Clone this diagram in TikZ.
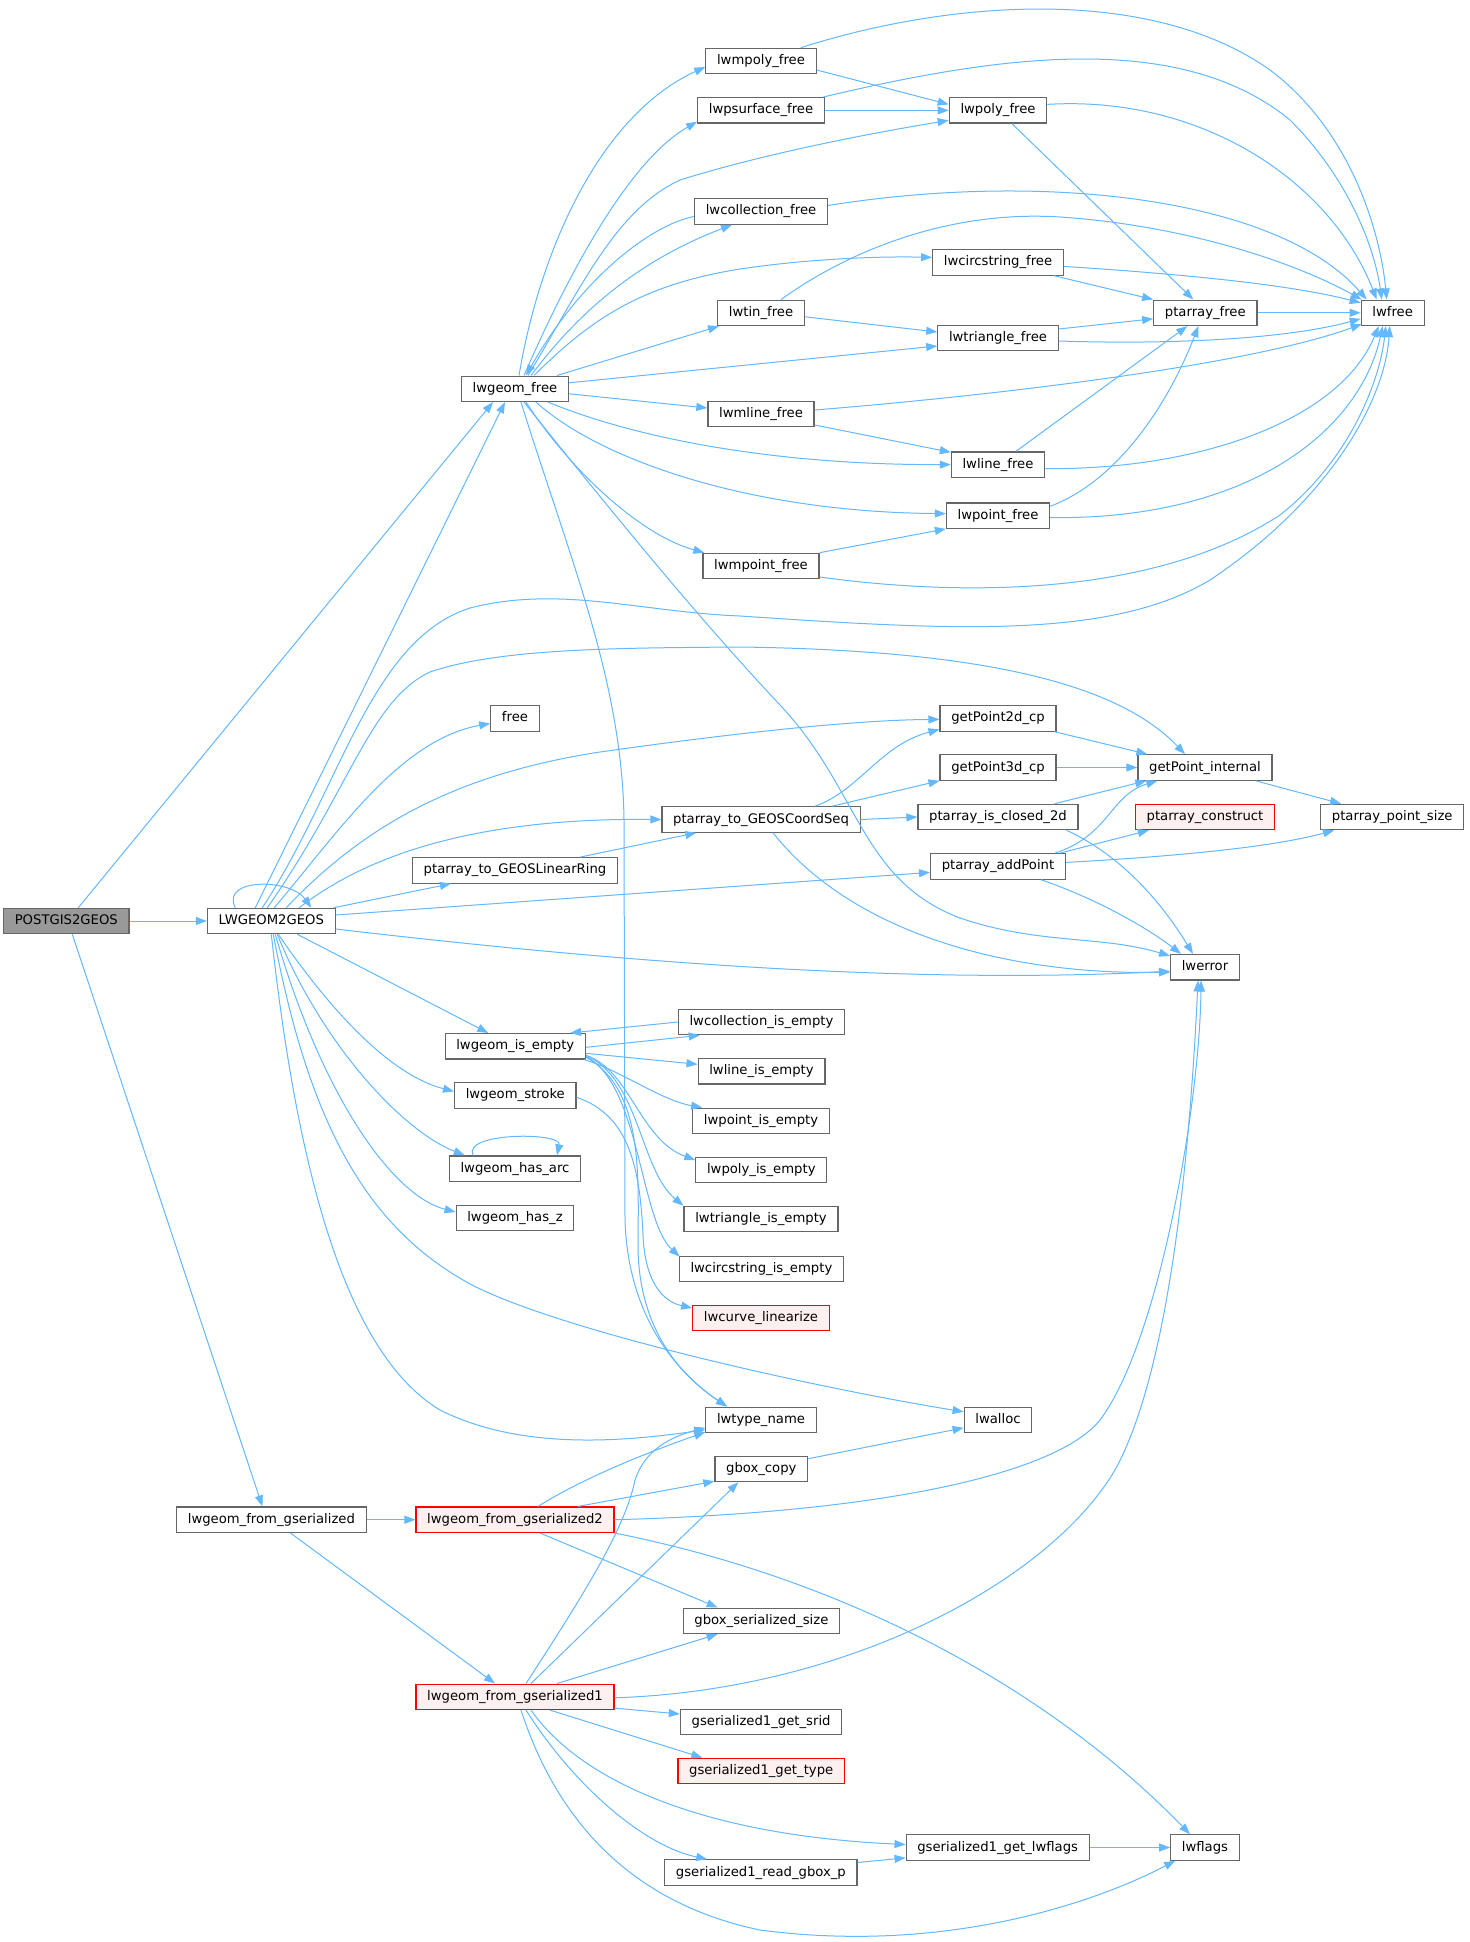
\documentclass[tikz,border=0pt]{standalone}
\usepackage{fontspec}
\setmainfont{DejaVu Sans}
\usetikzlibrary{arrows.meta,calc}
\definecolor{edgec}{HTML}{63B8FF}
\definecolor{bord}{HTML}{666666}
\definecolor{rootfill}{HTML}{999999}
\definecolor{redfill}{HTML}{FFF0F0}
\newcommand{\gfont}{\fontsize{6.6}{7.5}\selectfont}
\begin{document}
\begin{tikzpicture}[x=0.5pt,y=-0.5pt,
  box/.style={draw=bord, fill=white, line width=0.6pt, font=\gfont, inner xsep=5.6pt, inner ysep=0pt, minimum height=12.7pt, text height=4.9pt, text depth=1.4pt},
  rootbox/.style={box, fill=rootfill},
  redbox/.style={box, draw=red, fill=redfill},
  ed/.style={draw=edgec, line width=0.5pt, -{Triangle[length=5.5pt,width=4pt]}}]
\useasboundingbox (0,0) rectangle (1469,1942);
\fill[white] (0,0) rectangle (1469,1942);
% nodes
\node[rootbox] (root) at (66.3,921) {POSTGIS2GEOS};
\node[box] (lgg) at (271.3,921) {LWGEOM2GEOS};
\node[box] (gfree) at (515,388.8) {lwgeom\_free};
\node[box] (mpoly) at (761,61) {lwmpoly\_free};
\node[box] (psurf) at (761,110.4) {lwpsurface\_free};
\node[box] (poly) at (998,110.4) {lwpoly\_free};
\node[box] (coll) at (761,211.5) {lwcollection\_free};
\node[box] (circ) at (998,262.4) {lwcircstring\_free};
\node[box] (tin) at (761,312.8) {lwtin\_free};
\node[box] (tri) at (998,338) {lwtriangle\_free};
\node[box] (pafree) at (1205.3,312.8) {ptarray\_free};
\node[box] (lwfree) at (1392.7,312.8) {lwfree};
\node[box] (mline) at (761,414) {lwmline\_free};
\node[box] (line) at (998,464.6) {lwline\_free};
\node[box] (point) at (998,515.6) {lwpoint\_free};
\node[box] (mpoint) at (761,566) {lwmpoint\_free};
\node[box] (free) at (515,718.4) {free};
\node[box] (gp2d) at (998,718.4) {getPoint2d\_cp};
\node[box] (gp3d) at (998,767.5) {getPoint3d\_cp};
\node[box] (gpi) at (1205,767.5) {getPoint\_internal};
\node[box] (pcs) at (761,819.5) {ptarray\_to\_GEOSCoordSeq};
\node[box] (pcl) at (998,817) {ptarray\_is\_closed\_2d};
\node[redbox] (pcon) at (1205,817) {ptarray\_construct};
\node[box] (pps) at (1392.2,817) {ptarray\_point\_size};
\node[box] (plr) at (515,870.4) {ptarray\_to\_GEOSLinearRing};
\node[box] (pap) at (998,866.4) {ptarray\_addPoint};
\node[box] (lwerror) at (1205,967.2) {lwerror};
\node[box] (cie) at (761.5,1022) {lwcollection\_is\_empty};
\node[box] (gie) at (515.3,1046.3) {lwgeom\_is\_empty};
\node[box] (lie) at (761.5,1071.3) {lwline\_is\_empty};
\node[box] (stroke) at (515.3,1095.4) {lwgeom\_stroke};
\node[box] (pie) at (761,1120.8) {lwpoint\_is\_empty};
\node[box] (harc) at (515,1168.6) {lwgeom\_has\_arc};
\node[box] (polyie) at (761.3,1170) {lwpoly\_is\_empty};
\node[box] (hz) at (515,1218) {lwgeom\_has\_z};
\node[box] (trie) at (761,1219) {lwtriangle\_is\_empty};
\node[box] (circie) at (761.4,1269) {lwcircstring\_is\_empty};
\node[redbox] (curve) at (761,1318) {lwcurve\_linearize};
\node[box] (ltype) at (761,1419.8) {lwtype\_name};
\node[box] (alloc) at (998,1419.8) {lwalloc};
\node[box] (gcopy) at (761.3,1469) {gbox\_copy};
\node[box] (fgs) at (271.4,1519.7) {lwgeom\_from\_gserialized};
\node[redbox] (fgs2) at (515,1519.7) {lwgeom\_from\_gserialized2};
\node[box] (gss) at (761.4,1620.8) {gbox\_serialized\_size};
\node[redbox] (fgs1) at (515,1696.8) {lwgeom\_from\_gserialized1};
\node[box] (srid) at (761.1,1722) {gserialized1\_get\_srid};
\node[redbox] (gtype) at (761.2,1771) {gserialized1\_get\_type};
\node[box] (glwf) at (997.7,1847.5) {gserialized1\_get\_lwflags};
\node[box] (lwflags) at (1205,1847.5) {lwflags};
\node[box] (rgb) at (760.9,1872.5) {gserialized1\_read\_gbox\_p};
% root edges
\draw[ed] (root.east) -- (lgg.west);
\draw[ed] ($(root.north)+(12,0)$) -- ($(gfree.south)+(-22,0)$);
\draw[ed] ($(root.south)+(6,0)$) -- ($(fgs.north)+(-9,0)$);
% LWGEOM2GEOS edges
\draw[ed] ($(lgg.north)+(-36,0)$) .. controls (220,878) and (290,878) .. ($(lgg.north)+(40,0)$);
\draw[ed] ($(lgg.north)+(-16,0)$) -- ($(gfree.south)+(-10,0)$);
\draw[ed] ($(lgg.north)+(-9,0)$) .. controls (340,790) and (370,640) .. (470,608) .. controls (560,585) and (640,612) .. (740,616) .. controls (950,630) and (1110,640) .. (1210,580) .. controls (1330,500) and (1385,400) .. ($(lwfree.south)+(-3,0)$);
\draw[ed] ($(lgg.north)+(-4,0)$) .. controls (350,790) and (370,700) .. (430,672) .. controls (500,648) and (620,648) .. (740,647) .. controls (950,650) and (1110,675) .. ($(gpi.north)+(-20,0)$);
\draw[ed] ($(lgg.north)+(3,0)$) .. controls (340,830) and (400,740) .. ($(free.west)+(0,5)$);
\draw[ed] ($(lgg.north)+(15,0)$) .. controls (360,830) and (450,775) .. (600,752) .. controls (720,735) and (850,720) .. ($(gp2d.west)+(0,1)$);
\draw[ed] ($(lgg.north)+(28,0)$) .. controls (380,845) and (500,818) .. (pcs.west);
\draw[ed] ($(lgg.north east)+(-2,0)$) -- ($(plr.south west)+(39,0)$);
\draw[ed] ($(lgg.east)+(0,-6)$) -- ($(pap.west)+(0,6)$);
\draw[ed] ($(lgg.east)+(0,8)$) .. controls (600,960) and (900,985) .. ($(lwerror.west)+(0,4)$);
\draw[ed] ($(lgg.south)+(26,0)$) -- ($(gie.north)+(-27,0)$);
\draw[ed] ($(lgg.south)+(7,0)$) .. controls (330,1010) and (390,1075) .. ($(stroke.west)+(0,-4)$);
\draw[ed] ($(lgg.south)+(6,0)$) .. controls (320,1040) and (400,1130) .. ($(harc.north west)+(16,0)$);
\draw[ed] ($(lgg.south)+(4,0)$) .. controls (320,1090) and (390,1195) .. ($(hz.west)+(0,-6)$);
\draw[ed] ($(lgg.south)+(2,0)$) .. controls (310,1130) and (370,1230) .. (472,1285) .. controls (560,1330) and (800,1385) .. ($(alloc.west)+(0,-8)$);
\draw[ed] (lgg.south) .. controls (295,1150) and (340,1350) .. (440,1410) .. controls (520,1450) and (620,1442) .. ($(ltype.west)+(0,10)$);
% lwgeom_free edges
\draw[ed] ($(gfree.north)+(4,0)$) .. controls (540,250) and (600,115) .. ($(mpoly.west)+(0,6)$);
\draw[ed] ($(gfree.north)+(9,0)$) .. controls (570,270) and (630,160) .. ($(psurf.south west)+(0,-2)$);
\draw[ed] ($(gfree.north)+(13,0)$) .. controls (580,290) and (615,210) .. (680,180) .. controls (760,155) and (860,135) .. ($(poly.west)+(0,10)$);
\draw[ed] ($(coll.west)+(0,5)$) .. controls (650,225) and (580,280) .. ($(gfree.north)+(11,0)$);
\draw[ed] ($(gfree.north)+(16,0)$) .. controls (580,310) and (640,260) .. ($(coll.south west)+(38,0)$);
\draw[ed] ($(gfree.north)+(19,0)$) .. controls (590,320) and (640,285) .. (740,269) .. controls (800,260) and (870,256) .. ($(circ.west)+(0,-5)$);
\draw[ed] ($(gfree.north east)+(-12,0)$) -- ($(tin.south west)+(2,0)$);
\draw[ed] ($(gfree.east)+(0,-6)$) -- ($(tri.west)+(0,8)$);
\draw[ed] ($(gfree.east)+(0,5)$) -- ($(mline.west)+(0,-6)$);
\draw[ed] ($(gfree.south east)+(-21,0)$) .. controls (640,440) and (780,465) .. (line.west);
\draw[ed] ($(gfree.south)+(21,0)$) .. controls (600,460) and (750,512) .. ($(point.west)+(0,-2)$);
\draw[ed] ($(gfree.south)+(11,0)$) .. controls (570,470) and (640,535) .. ($(mpoint.north west)+(2,0)$);
\draw[ed] ($(gfree.south)+(9,0)$) .. controls (610,510) and (700,620) .. (780,705) .. controls (860,790) and (860,880) .. (960,918) .. controls (1040,945) and (1100,935) .. ($(lwerror.north west)+(0,2)$);
\draw[ed] ($(gfree.south)+(6,0)$) .. controls (570,560) and (622,680) .. (624,820) -- (625,1220) .. controls (628,1320) and (680,1375) .. ($(ltype.north)+(-34,0)$);
% to lwfree
\draw[ed] ($(mpoly.north east)+(-16,0)$) .. controls (950,0) and (1150,-15) .. (1270,70) .. controls (1350,130) and (1380,230) .. ($(lwfree.north)+(-6,0)$);
\draw[ed] ($(psurf.north east)+(-2,0)$) .. controls (1000,55) and (1180,30) .. (1290,120) .. controls (1350,180) and (1375,250) .. ($(lwfree.north)+(-11,0)$);
\draw[ed] ($(poly.east)+(0,-6)$) .. controls (1200,95) and (1330,180) .. ($(lwfree.north)+(-16,0)$);
\draw[ed] ($(coll.east)+(0,-6)$) .. controls (1050,170) and (1280,200) .. ($(lwfree.north west)+(6,0)$);
\draw[ed] ($(circ.east)+(0,4)$) .. controls (1150,272) and (1280,282) .. ($(lwfree.west)+(0,-10)$);
\draw[ed] ($(tin.north)+(20,0)$) .. controls (850,250) and (950,210) .. (1060,217) .. controls (1180,225) and (1290,260) .. ($(lwfree.north west)+(1,0)$);
\draw[ed] (pafree.east) -- (lwfree.west);
\draw[ed] ($(tri.east)+(0,3)$) .. controls (1180,345) and (1290,338) .. ($(lwfree.west)+(0,6)$);
\draw[ed] ($(mline.east)+(0,-4)$) .. controls (1000,395) and (1250,365) .. ($(lwfree.south west)+(1,-2)$);
\draw[ed] ($(line.east)+(0,4)$) .. controls (1200,470) and (1340,420) .. ($(lwfree.south)+(-14,0)$);
\draw[ed] ($(point.east)+(0,2)$) .. controls (1250,520) and (1360,430) .. ($(lwfree.south)+(-10,0)$);
\draw[ed] ($(mpoint.east)+(0,11)$) .. controls (950,595) and (1150,600) .. (1280,515) .. controls (1350,460) and (1380,380) .. ($(lwfree.south)+(-7,0)$);
% free family internal
\draw[ed] ($(mpoly.east)+(0,9)$) -- ($(poly.west)+(0,-6)$);
\draw[ed] (psurf.east) -- (poly.west);
\draw[ed] ($(poly.south)+(14,0)$) -- ($(pafree.north)+(-12,0)$);
\draw[ed] ($(circ.south east)+(-10,0)$) -- (pafree.north west);
\draw[ed] ($(tin.east)+(0,4)$) -- ($(tri.west)+(0,-6)$);
\draw[ed] ($(tri.east)+(0,-9)$) -- ($(pafree.west)+(0,6)$);
\draw[ed] ($(mline.east)+(0,11)$) -- ($(line.north west)+(0,1)$);
\draw[ed] ($(line.north)+(18,0)$) -- ($(pafree.south)+(-18,0)$);
\draw[ed] ($(point.north east)+(0,4)$) .. controls (1120,480) and (1170,400) .. ($(pafree.south)+(-7,0)$);
\draw[ed] (mpoint.north east) -- (point.south west);
% coord seq family
\draw[ed] ($(pcs.north)+(54,0)$) .. controls (860,790) and (880,745) .. ($(gp2d.west)+(0,11)$);
\draw[ed] ($(pcs.north)+(71,0)$) -- (gp3d.south west);
\draw[ed] (pcs.east) -- (pcl.west);
\draw[ed] ($(pcs.south)+(12,0)$) .. controls (850,930) and (1000,975) .. ($(lwerror.west)+(0,5)$);
\draw[ed] ($(plr.north east)+(-38,0)$) -- ($(pcs.south west)+(35,0)$);
\draw[ed] ($(gp2d.south east)+(-2,0)$) -- ($(gpi.north west)+(10,0)$);
\draw[ed] (gp3d.east) -- (gpi.west);
\draw[ed] ($(pcl.north east)+(-24,0)$) -- ($(gpi.south west)+(9,0)$);
\draw[ed] ($(pcl.south east)+(-12,0)$) .. controls (1120,855) and (1160,900) .. ($(lwerror.north)+(-12,0)$);
\draw[ed] ($(pap.north east)+(-11,0)$) .. controls (1110,835) and (1110,795) .. ($(gpi.south west)+(20,0)$);
\draw[ed] ($(pap.north east)+(-6,0)$) -- ($(pcon.south west)+(14,0)$);
\draw[ed] ($(pap.east)+(0,-4)$) .. controls (1200,855) and (1280,845) .. ($(pps.south west)+(14,0)$);
\draw[ed] ($(pap.south)+(43,0)$) .. controls (1100,900) and (1150,930) .. ($(lwerror.north)+(-24,0)$);
\draw[ed] ($(gpi.south east)+(-17,0)$) -- ($(pps.north west)+(21,0)$);
% is_empty family
\draw[ed] (cie.west) -- ($(gie.north east)+(-16,0)$);
\draw[ed] ($(gie.east)+(0,1)$) -- ($(cie.south west)+(22,0)$);
\draw[ed] ($(gie.east)+(0,7)$) -- ($(lie.west)+(0,-7)$);
\draw[ed] ($(gie.south east)+(-2,0)$) .. controls (620,1070) and (660,1100) .. ($(pie.north west)+(10,0)$);
\draw[ed] ($(gie.east)+(0,9)$) .. controls (630,1070) and (640,1140) .. ($(polyie.west)+(0,-10)$);
\draw[ed] ($(gie.east)+(0,9)$) .. controls (640,1080) and (640,1170) .. (trie.north west);
\draw[ed] ($(gie.east)+(0,10)$) .. controls (640,1085) and (640,1220) .. ($(circie.north west)+(1,1)$);
\draw[ed] ($(gie.east)+(0,11)$) .. controls (645,1090) and (638,1180) .. (638,1250) .. controls (640,1330) and (680,1375) .. ($(ltype.north)+(-34,0)$);
\draw[ed] ($(stroke.east)+(0,2)$) .. controls (630,1115) and (640,1170) .. (643,1235) .. controls (645,1285) and (665,1302) .. ($(curve.west)+(0,-10)$);
\draw[ed] ($(harc.north)+(-42,0)$) .. controls (462,1132) and (562,1132) .. ($(harc.north)+(42,0)$);
\draw[ed] ($(gcopy.north east)+(0,3)$) -- ($(alloc.west)+(0,8)$);
% gserialized family
\draw[ed] (fgs.east) -- (fgs2.west);
\draw[ed] ($(fgs.south)+(19,0)$) -- ($(fgs1.north)+(-20,0)$);
\draw[ed] ($(fgs2.north)+(23,0)$) .. controls (580,1480) and (640,1455) .. ($(ltype.south west)+(0,-1)$);
\draw[ed] ($(fgs2.north)+(63,0)$) -- ($(gcopy.south west)+(0,-1)$);
\draw[ed] (fgs2.east) .. controls (900,1512) and (1060,1470) .. (1100,1420) .. controls (1160,1340) and (1200,1100) .. ($(lwerror.south)+(-4,0)$);
\draw[ed] ($(fgs2.south)+(25,0)$) -- ($(gss.north west)+(35,0)$);
\draw[ed] (fgs2.south east) .. controls (850,1580) and (1050,1690) .. ($(lwflags.north)+(-15,0)$);
\draw[ed] ($(fgs1.north)+(11,0)$) .. controls (580,1600) and (625,1530) .. (635,1480) .. controls (645,1450) and (670,1437) .. ($(ltype.west)+(0,8)$);
\draw[ed] ($(fgs1.north)+(16,0)$) -- ($(gcopy.south)+(-23,0)$);
\draw[ed] ($(fgs1.north)+(42,0)$) -- ($(gss.south west)+(35,0)$);
\draw[ed] ($(fgs1.east)+(0,1)$) .. controls (850,1690) and (1050,1580) .. (1115,1470) .. controls (1170,1370) and (1190,1150) .. ($(lwerror.south)+(-7,0)$);
\draw[ed] ($(fgs1.south east)+(0,-2)$) -- ($(srid.west)+(0,-8)$);
\draw[ed] ($(fgs1.south)+(35,0)$) -- ($(gtype.north west)+(25,0)$);
\draw[ed] ($(fgs1.south)+(16,0)$) .. controls (580,1780) and (700,1835) .. ($(glwf.west)+(0,-3)$);
\draw[ed] ($(fgs1.south)+(11,0)$) .. controls (570,1780) and (640,1845) .. ($(rgb.north west)+(43,0)$);
\draw[ed] ($(fgs1.south)+(6,0)$) .. controls (560,1830) and (640,1905) .. (760,1930) .. controls (950,1955) and (1100,1900) .. ($(lwflags.south west)+(5,0)$);
\draw[ed] ($(rgb.east)+(0,-10)$) -- ($(glwf.south west)+(0,-3)$);
\draw[ed] (glwf.east) -- (lwflags.west);
\end{tikzpicture}
\end{document}
